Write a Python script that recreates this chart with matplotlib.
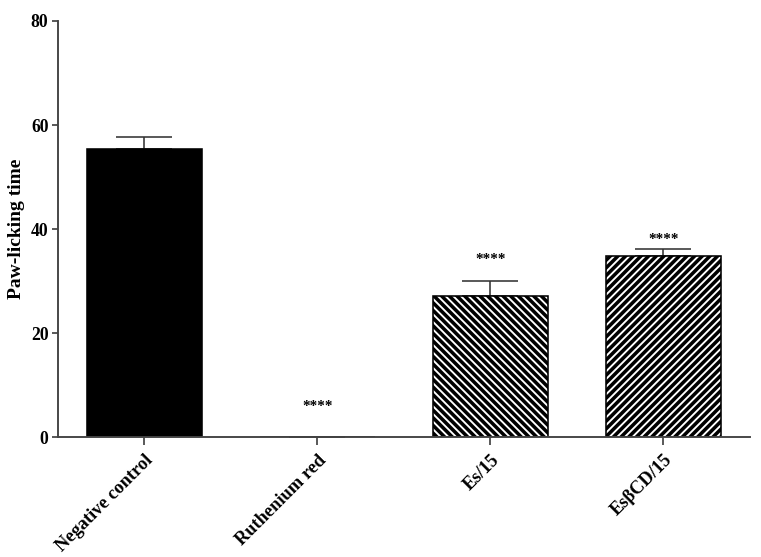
import numpy as np
import matplotlib
matplotlib.use("Agg")
import matplotlib.pyplot as plt

# data
groups = ["Negative control", "Ruthenium red", "Es/15", "Es\u03b2CD/15"]
means = [55.4, 0.0, 27.2, 34.9]
sem = [2.3, 0.0, 2.8, 1.2]
stars = ["", "****", "****", "****"]
star_y = [0.0, 5.8, 34.2, 37.9]

plt.rcParams["font.family"] = ["Liberation Serif", "DejaVu Serif"]
plt.rcParams["font.weight"] = "bold"
plt.rcParams["hatch.linewidth"] = 2.2

DPI = 115
fig = plt.figure(figsize=(761 / DPI, 557 / DPI), dpi=DPI)
ax = fig.add_axes([0.0762, 0.2154, 0.9093, 0.7469])

x = np.arange(len(groups))
fills = ["black", "white", "white", "white"]
hatches = ["", "", "\\" * 5, "/" * 5]

bars = ax.bar(x, means, width=0.66, color=fills, edgecolor="black",
              linewidth=1.0, zorder=2)
for b, h in zip(bars, hatches):
    b.set_hatch(h)

ax.errorbar(x, means, yerr=[np.zeros(len(sem)), sem], fmt="none",
            ecolor="#333333", elinewidth=1.0, capsize=17.5, capthick=1.0,
            zorder=1)

for xi, s, sy in zip(x, stars, star_y):
    if s:
        ax.text(xi, sy, s, ha="center", va="center", fontsize=9.5,
                fontweight="bold")

ax.set_xlim(-0.5, 3.5)
ax.set_ylim(0, 80)
ax.set_yticks([0, 20, 40, 60, 80])
ax.set_xticks(x)
ax.set_xticklabels(groups, rotation=45, ha="right", rotation_mode="anchor",
                   fontsize=11.5, fontweight="bold")
ax.tick_params(axis="y", labelsize=11, length=4, width=1.0, color="#333333",
               pad=2)
ax.tick_params(axis="x", length=5, width=1.0, color="#333333", pad=4)
for lab in ax.get_yticklabels():
    lab.set_fontweight("bold")

ax.set_ylabel("Paw-licking time", fontsize=12.2, fontweight="bold")
ax.yaxis.set_label_coords(-0.048, 0.5)

ax.spines["top"].set_visible(False)
ax.spines["right"].set_visible(False)
for sp in ["left", "bottom"]:
    ax.spines[sp].set_color("#444444")
    ax.spines[sp].set_linewidth(1.2)

fig.savefig("out.png", dpi=DPI)
